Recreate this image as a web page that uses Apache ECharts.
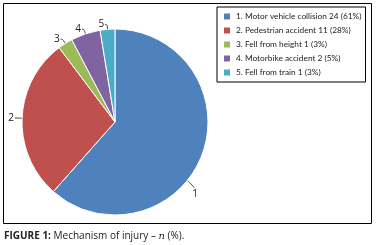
<!DOCTYPE html>
<html>
<head>
<meta charset="utf-8">
<script src="https://cdn.jsdelivr.net/npm/echarts@6/dist/echarts.min.js"></script>
<style>
html,body{margin:0;padding:0;background:#fff;}
#chart{width:379px;height:245px;}
</style>
</head>
<body>
<div id="chart"></div>
<script>
// slice numbers, legend text and counts
const sliceNames = ['1', '2', '3', '4', '5'];
const legendTexts = [
    '1. Motor vehicle collision 24 (61%)',
    '2. Pedestrian accident 11 (28%)',
    '3. Fell from height 1 (3%)',
    '4. Motorbike accident 2 (5%)',
    '5. Fell from train 1 (3%)'
];
const counts = [24, 11, 1, 2, 1];
const colors = ['#4F81BD', '#C0504D', '#9BBB59', '#8064A2', '#4BACC6'];

const chart = echarts.init(document.getElementById('chart'));
const font = 'Open Sans';
const legendFont = 'Lato';
const cx = 115, cy = 122, r = 93;

// label 1 sits lower on the big slice in the original (best fit), move it there
const pointAt = (deg, rr) => {
    const a = deg * Math.PI / 180;
    return [cx + rr * Math.sin(a), cy - rr * Math.cos(a)];
};

const option = {
    animation: false,
    color: colors,
    legend: {
        orient: 'vertical',
        left: 217,
        top: 7,
        padding: [4, 4, 4, 5],
        borderColor: '#000',
        borderWidth: 1,
        itemWidth: 8,
        itemHeight: 8,
        itemGap: 3,
        icon: 'rect',
        data: sliceNames,
        formatter: name => legendTexts[sliceNames.indexOf(name)],
        textStyle: { fontFamily: legendFont, fontSize: 8.3, color: '#222', lineHeight: 11 }
    },
    graphic: [
        {
            type: 'rect',
            shape: { x: 3.5, y: 3.5, width: 368, height: 220 },
            style: { fill: 'none', stroke: '#000', lineWidth: 1 }
        },
        {
            type: 'text',
            left: 4,
            top: 231,
            style: {
                text: '{b|FIGURE 1:} Mechanism of injury – {i|n} (%).',
                fontFamily: font,
                fontSize: 10,
                fill: '#222',
                rich: {
                    b: { fontFamily: font, fontSize: 10, fontWeight: 'bold', fill: '#222' },
                    i: { fontFamily: 'DejaVu Serif', fontSize: 10, fontStyle: 'italic', fill: '#222' }
                }
            }
        }
    ],
    series: [{
        type: 'pie',
        center: [cx, cy],
        radius: r,
        startAngle: 90,
        clockwise: true,
        avoidLabelOverlap: false,
        itemStyle: { borderColor: '#fff', borderWidth: 1 },
        label: {
            show: true,
            formatter: '{b}',
            fontFamily: font,
            fontSize: 10,
            color: '#222',
            distanceToLabelLine: 1
        },
        labelLine: {
            show: true,
            length: 5,
            length2: 2,
            smooth: 0.5,
            lineStyle: { color: '#333', width: 1 }
        },
        labelLayout: params => {
            if (params.dataIndex !== 0) return {};
            const p0 = pointAt(129, r);
            const p1 = pointAt(129, r + 5);
            const p2 = [p1[0] + 3, p1[1] + 4];
            return {
                x: p2[0] + 1,
                y: p2[1] + 6,
                align: 'center',
                verticalAlign: 'middle',
                labelLinePoints: [p0, p1, p2]
            };
        },
        data: sliceNames.map((n, i) => ({ name: n, value: counts[i] }))
    }]
};
chart.setOption(option);
</script>
</body>
</html>
